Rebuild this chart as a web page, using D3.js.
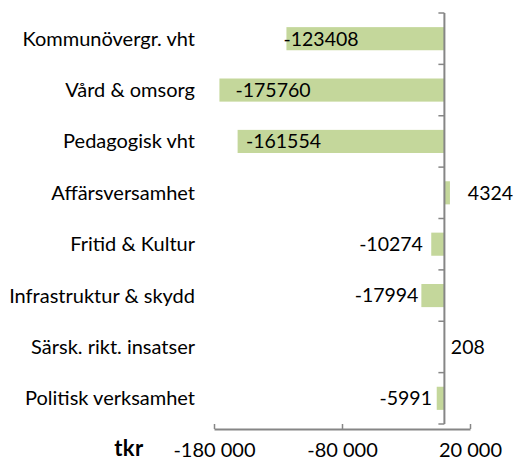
<!DOCTYPE html>
<html lang="sv">
<head>
<meta charset="UTF-8">
<title>tkr per verksamhet</title>
<script src="https://cdnjs.cloudflare.com/ajax/libs/d3/7.8.5/d3.min.js"></script>
<style>
    body, html { margin: 0; padding: 0; background: #fff; }
    svg { display: block; }
    .cat, .val, .tick-label { font-family: Lato, "Open Sans", sans-serif; fill: #000; }
</style>
</head>
<body>
<svg id="chart" width="517" height="461"></svg>
<script>
// data
const categories = ["Kommunövergr. vht", "Vård & omsorg", "Pedagogisk vht", "Affärsversamhet",
                    "Fritid & Kultur", "Infrastruktur & skydd", "Särsk. rikt. insatser", "Politisk verksamhet"];
const values = [-123408, -175760, -161554, 4324, -10274, -17994, 208, -5991];
// where each value label sits (centre, in tkr)
const labelAt = [-96400, -133900, -125700, 36000, -41700, -45200, 18300, -30200];
const tickValues = [-180000, -80000, 20000];
const tickLabels = ["-180 000", "-80 000", "20 000"];

const svg = d3.select("#chart");
const plotTop = 13, plotBottom = 424, axisY = 429, plotLeft = 214, plotRight = 470;

const x = d3.scaleLinear().domain([-180000, 20000]).range([plotLeft, plotRight]);
const y = d3.scaleBand().domain(categories).range([plotTop, plotBottom])
    .paddingInner(0.55).paddingOuter(0.275);

const axisColor = "#868686";
const fontSize = 20;

// bars
svg.append("g").selectAll("rect")
    .data(values)
    .enter().append("rect")
    .attr("x", d => x(Math.min(0, d)))
    .attr("y", (d, i) => y(categories[i]))
    .attr("width", d => Math.abs(x(d) - x(0)))
    .attr("height", y.bandwidth())
    .attr("fill", "#c4d79b");

// value labels
svg.append("g").selectAll("text")
    .data(values)
    .enter().append("text")
    .attr("class", "val")
    .attr("x", (d, i) => x(labelAt[i]))
    .attr("y", (d, i) => y(categories[i]) + y.bandwidth() / 2)
    .attr("dy", "0.35em")
    .attr("text-anchor", "middle")
    .style("font-size", "19.5px")
    .text(d => d);

// category labels
svg.append("g").selectAll("text")
    .data(categories)
    .enter().append("text")
    .attr("class", "cat")
    .attr("x", 195)
    .attr("y", d => y(d) + y.bandwidth() / 2)
    .attr("dy", "0.35em")
    .attr("text-anchor", "end")
    .style("font-size", fontSize + "px")
    .text(d => d);

// vertical axis at zero with ticks at band edges
const step = y.step();
const zx = x(0);
svg.append("line")
    .attr("x1", zx).attr("x2", zx)
    .attr("y1", plotTop).attr("y2", plotBottom)
    .attr("stroke", axisColor).attr("stroke-width", 2);
svg.append("g").selectAll("line")
    .data(d3.range(categories.length + 1))
    .enter().append("line")
    .attr("x1", zx - 6).attr("x2", zx)
    .attr("y1", i => plotTop + i * step).attr("y2", i => plotTop + i * step)
    .attr("stroke", axisColor).attr("stroke-width", 1.5);

// horizontal axis, ticks pointing up
const xAxis = svg.append("g")
    .attr("transform", `translate(0,${axisY})`)
    .call(d3.axisBottom(x).tickValues(tickValues).tickSize(-5).tickSizeOuter(0)
        .tickFormat((d, i) => tickLabels[i]));
xAxis.select(".domain").attr("stroke", axisColor).attr("stroke-width", 2);
xAxis.selectAll(".tick line").attr("stroke", axisColor).attr("stroke-width", 1.5);
xAxis.selectAll(".tick text")
    .attr("class", "tick-label")
    .attr("y", 28)
    .attr("dy", 0)
    .style("font-size", fontSize + "px");

// unit label
svg.append("text")
    .attr("class", "cat")
    .attr("x", 129)
    .attr("y", 456)
    .attr("text-anchor", "middle")
    .style("font-size", "22px")
    .style("font-weight", "bold")
    .style("letter-spacing", "0.5px")
    .text("tkr");
</script>
</body>
</html>
